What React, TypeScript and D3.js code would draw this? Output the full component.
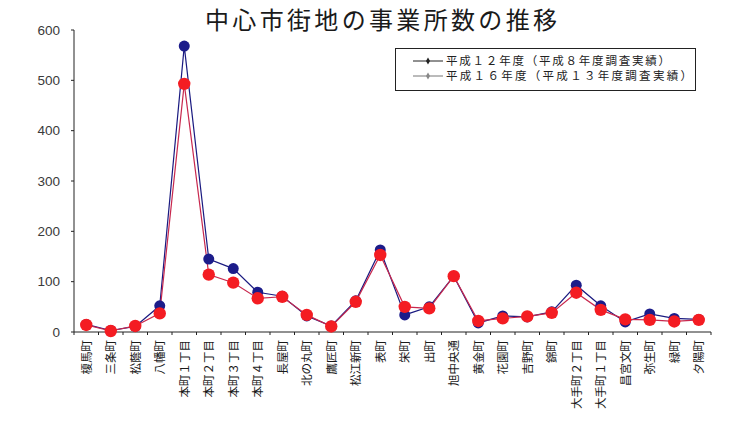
import React from "react";
import * as d3 from "d3";

const title = "中心市街地の事業所数の推移";

const districts = [
  "榎馬町", "三条町", "松蔭町", "八幡町", "本町１丁目", "本町２丁目", "本町３丁目", "本町４丁目",
  "長屋町", "北の丸町", "鷹匠町", "松江新町", "表町", "栄町", "出町", "旭中央通",
  "黄金町", "花園町", "吉野町", "錦町", "大手町２丁目", "大手町１丁目", "昌宮文町", "弥生町",
  "緑町", "夕陽町",
];

const seriesNames = [
  "平成１２年度（平成８年度調査実績）",
  "平成１６年度（平成１３年度調査実績）",
];

const countsH12 = [15, 3, 11, 52, 568, 145, 126, 79, 71, 32, 12, 62, 163, 34, 50, 111, 18, 32, 30, 40, 93, 52, 20, 36, 27, 25];
const countsH16 = [14, 2, 12, 37, 493, 114, 98, 67, 70, 34, 11, 60, 153, 50, 47, 111, 22, 27, 31, 38, 78, 44, 25, 24, 21, 24];

const yTicks = [0, 100, 200, 300, 400, 500, 600];

const W = 733;
const H = 423;
const plot = { left: 74, right: 711, top: 30, bottom: 332 };

const lineColors = ["#1a1a80", "#c8284e"];
const markerColors = ["#1c1c8a", "#f41c22"];
const markerRadius = [5.5, 6.2];

export default function App() {
  const x = d3
    .scaleBand<string>()
    .domain(districts)
    .range([plot.left, plot.right])
    .paddingInner(0)
    .paddingOuter(0);
  const y = d3.scaleLinear().domain([0, 600]).range([plot.bottom, plot.top]);

  const cx = (d: string) => (x(d) ?? 0) + x.bandwidth() / 2;

  const series = [countsH12, countsH16];
  const line = d3
    .line<number>()
    .x((_, i) => cx(districts[i]))
    .y((v) => y(v));

  const boundaries = districts.map((d) => x(d) ?? 0).concat([plot.right]);

  return (
    <svg
      width={W}
      height={H}
      style={{ position: "absolute", left: 0, top: 0, background: "#fff" }}
    >
      <rect x={0} y={0} width={W} height={H} fill="#fff" />
      <text
        x={381}
        y={29}
        textAnchor="middle"
        fontFamily="'Noto Sans CJK JP', sans-serif"
        fontSize={24}
        textLength={352}
        lengthAdjust="spacing"
        fill="#1a1a1a"
      >
        {title}
      </text>

      {/* y axis */}
      <line x1={plot.left} x2={plot.left} y1={plot.top} y2={plot.bottom} stroke="#222" strokeWidth={1} />
      {yTicks.map((t) => (
        <g key={t}>
          <line x1={plot.left - 3} x2={plot.left} y1={y(t)} y2={y(t)} stroke="#222" />
          <text
            x={60}
            y={y(t)}
            dy="0.35em"
            textAnchor="end"
            fontFamily="'Liberation Sans', Arial, sans-serif"
            fontSize={13.5}
            fill="#3a3a3a"
          >
            {t}
          </text>
        </g>
      ))}

      {/* x axis */}
      <line x1={plot.left} x2={plot.right} y1={plot.bottom} y2={plot.bottom} stroke="#222" strokeWidth={1} />
      {boundaries.map((b, i) => (
        <line key={i} x1={b} x2={b} y1={plot.bottom} y2={plot.bottom + 3} stroke="#222" />
      ))}
      {districts.map((d) => (
        <text
          key={d}
          transform={`translate(${cx(d)},${plot.bottom + 8}) rotate(-90)`}
          textAnchor="end"
          dy="0.38em"
          fontFamily="'Noto Sans CJK JP', sans-serif"
          fontSize={11.5}
          fill="#1a1a1a"
        >
          {d}
        </text>
      ))}

      {/* series lines */}
      {series.map((s, k) => (
        <path key={k} d={line(s) ?? ""} fill="none" stroke={lineColors[k]} strokeWidth={1.2} />
      ))}

      {/* markers */}
      {series.map((s, k) => (
        <g key={k}>
          {s.map((v, i) => (
            <circle
              key={i}
              cx={cx(districts[i])}
              cy={y(v)}
              r={markerRadius[k]}
              fill={markerColors[k]}
            />
          ))}
        </g>
      ))}

      {/* legend */}
      <g>
        <rect x={395.5} y={48.5} width={300} height={42} fill="#fff" stroke="#222" strokeWidth={1} />
        {seriesNames.map((name, k) => {
          const ly = 61 + k * 15;
          return (
            <g key={k}>
              <line x1={413} x2={443} y1={ly} y2={ly} stroke={k === 0 ? "#222" : "#777"} strokeWidth={1} />
              <path
                d={d3.symbol().type(d3.symbolDiamond).size(14)() ?? ""}
                transform={`translate(428,${ly})`}
                fill={k === 0 ? "#222" : "#888"}
              />
              <text
                x={446}
                y={ly}
                dy="0.36em"
                fontFamily="'Noto Sans CJK JP', sans-serif"
                fontSize={11.5}
                textLength={k === 0 ? 224 : 246}
                lengthAdjust="spacing"
                fill="#222"
              >
                {name}
              </text>
            </g>
          );
        })}
      </g>
    </svg>
  );
}
